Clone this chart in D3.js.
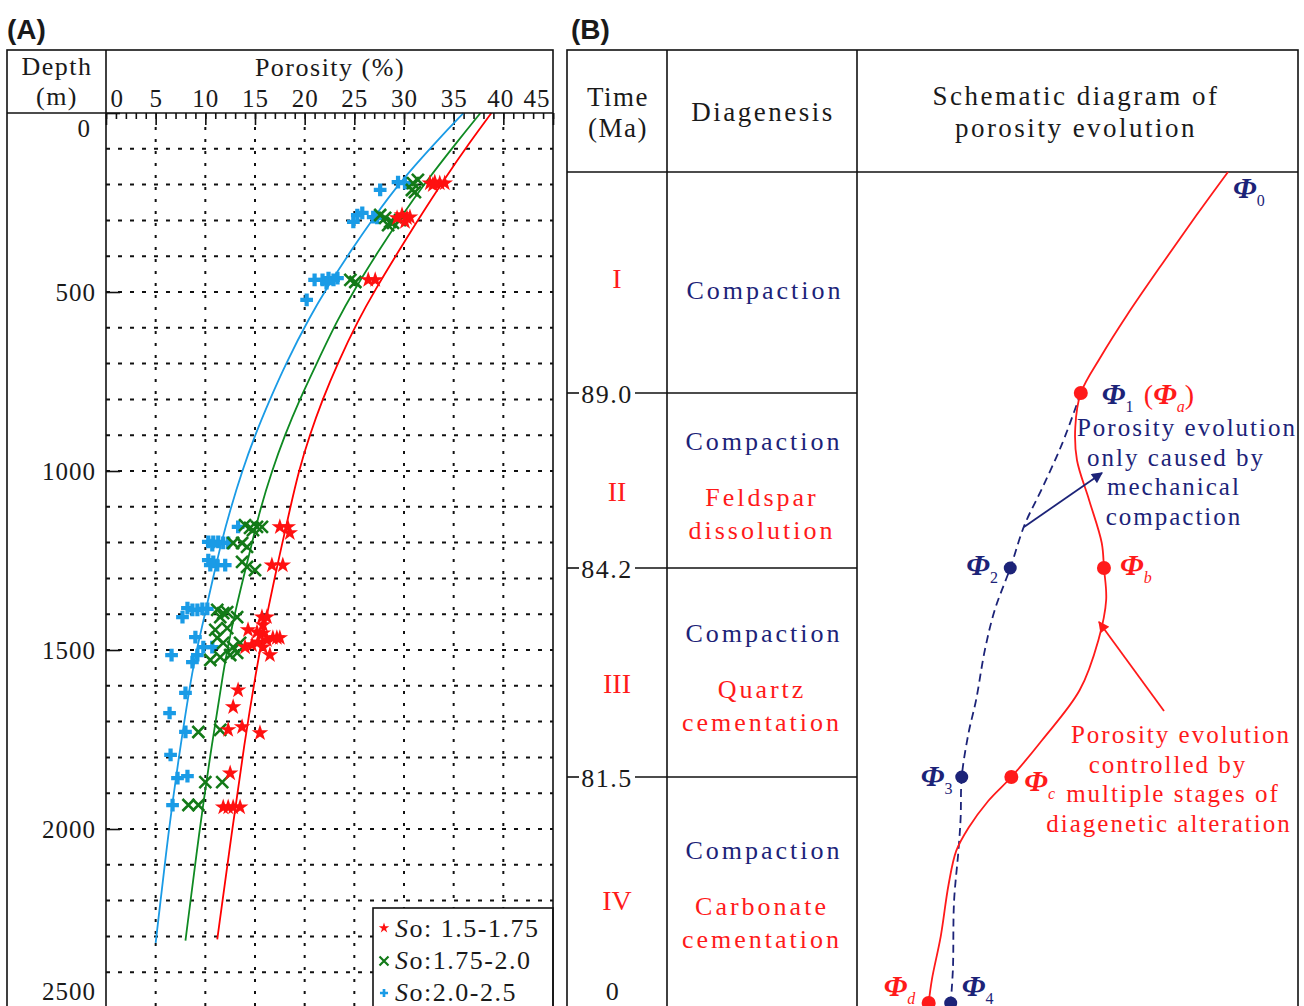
<!DOCTYPE html>
<meta charset="utf-8">
<head>
<title>Porosity vs depth and porosity evolution</title>
<script src="https://cdn.jsdelivr.net/npm/d3@7"></script>
<style>
  body { margin: 0; background: #fff; }
  svg text { font-family: "Liberation Serif", "Times New Roman", serif; fill: #1a1a1a; }
  .tag { font-family: "Liberation Sans", Arial, sans-serif !important; font-weight: bold; font-size: 28px; }
  .axis path { display: none; }
  .axis line { stroke: #111; stroke-width: 1.6; }
</style>
</head>
<body>
<svg width="1304" height="1006"></svg>
<script>
// ---------- panel A data ----------
var porosityTicks = [0, 5, 10, 15, 20, 25, 30, 35, 40, 45];
var depthTicks = [0, 500, 1000, 1500, 2000, 2500];
var legendRanges = [": 1.5-1.75", ":1.75-2.0", ":2.0-2.5"];

// [porosity %, depth m]
var starPoints = [
  [32.6, 196], [33.1, 193], [33.6, 196], [34.1, 196], [32.9, 201],
  [29.3, 293], [29.8, 285], [30.3, 293], [30.6, 291], [30.1, 304],
  [26.4, 466], [27.1, 466],
  [17.5, 1156], [18.3, 1156], [18.5, 1173], [16.7, 1263], [17.8, 1263],
  [15.7, 1408], [16.2, 1408], [15.8, 1430], [14.3, 1444], [15.2, 1450], [15.8, 1453],
  [14.0, 1492], [14.7, 1486], [15.3, 1478], [16.2, 1472], [16.8, 1466], [17.5, 1466],
  [15.8, 1492], [16.5, 1514], [17.2, 1466],
  [13.3, 1612], [12.8, 1659], [12.3, 1723], [13.7, 1715], [15.5, 1732], [12.5, 1844],
  [11.8, 1939], [12.3, 1939], [12.8, 1939], [13.5, 1939]
];
var timesPoints = [
  [30.9, 196], [31.4, 187], [30.8, 215], [31.1, 221],
  [27.6, 285], [28.1, 293], [28.6, 304], [28.9, 307], [29.6, 299], [28.4, 313],
  [24.6, 466], [25.1, 472],
  [14.0, 1151], [14.5, 1159], [15.2, 1156], [15.7, 1156], [14.8, 1165],
  [12.8, 1201], [13.7, 1201], [14.2, 1212],
  [13.7, 1254], [14.2, 1268], [15.0, 1277],
  [11.2, 1388], [11.8, 1397], [11.5, 1408], [13.2, 1408], [12.2, 1394],
  [11.0, 1444], [11.2, 1466], [12.2, 1439], [11.8, 1480], [12.8, 1492], [13.5, 1480],
  [10.5, 1528], [11.5, 1520], [12.5, 1514], [13.2, 1508],
  [9.3, 1729], [11.5, 1723], [10.0, 1869], [11.7, 1869], [8.3, 1933], [9.3, 1933]
];
var plusPoints = [
  [27.6, 215], [29.4, 193], [30.1, 196],
  [25.3, 285], [24.9, 304], [25.8, 279], [26.9, 291], [27.3, 293],
  [21.0, 466], [21.8, 466], [22.4, 461], [22.9, 466], [23.3, 461], [22.2, 475], [20.2, 522],
  [13.3, 1156],
  [10.3, 1198], [10.8, 1198], [11.3, 1198], [11.8, 1201], [12.3, 1201], [10.7, 1207],
  [10.3, 1249], [10.8, 1254], [11.2, 1263], [12.0, 1263], [10.5, 1263],
  [8.2, 1383], [8.7, 1388], [9.2, 1388], [9.7, 1385], [10.2, 1385], [7.7, 1408],
  [9.0, 1464], [9.8, 1492], [10.7, 1492], [6.6, 1514], [8.7, 1534], [9.2, 1514],
  [8.0, 1620], [6.4, 1676], [8.0, 1729], [6.5, 1793], [7.2, 1858], [8.2, 1852], [6.7, 1933]
];

// fitted trend lines
var redFit = [[38.8, 0], [36.8, 75], [34.0, 187], [31.4, 299], [29.1, 402], [27.1, 494], [25.4, 578],
  [23.3, 700], [21.8, 800], [20.5, 900], [19.4, 1000], [18.5, 1109], [17.75, 1201], [17.0, 1296],
  [16.3, 1388], [15.65, 1480], [15.2, 1545], [13.9, 1765], [12.7, 2003], [11.2, 2308]];
var greenFit = [[37.7, 0], [35.5, 75], [32.1, 196], [29.7, 290], [27.3, 391], [25.0, 494], [23.3, 578],
  [21.2, 700], [19.5, 800], [18.0, 900], [16.7, 1000], [15.5, 1109], [14.7, 1201], [13.85, 1296],
  [13.05, 1388], [12.35, 1480], [11.9, 1545], [10.65, 1765], [9.4, 2003], [8.0, 2312]];
var blueFit = [[36.0, 0], [33.4, 75], [29.5, 196], [27.0, 290], [24.5, 391], [22.3, 486], [20.5, 570],
  [18.1, 700], [16.5, 800], [15.0, 900], [13.7, 1000], [12.5, 1109], [11.6, 1201], [10.8, 1296],
  [10.05, 1388], [9.3, 1480], [8.8, 1540], [7.5, 1765], [6.3, 2003], [5.0, 2318]];

// ---------- panel B data ----------
var stages = ["I", "II", "III", "IV"];
var boundaryAges = ["89.0", "84.2", "81.5", "0"];
var diagenesis = [
  ["Compaction"],
  ["Compaction", "Feldspar", "dissolution"],
  ["Compaction", "Quartz", "cementation"],
  ["Compaction", "Carbonate", "cementation"]
];
// [relative porosity, stage position]
var actualPath = [[33.65, 0], [30.8, 0.195], [27.8, 0.407], [24.5, 0.647], [22.1, 0.837], [20.3, 1],
  [19.8, 1.194], [19.95, 1.383], [21.05, 1.611], [22.2, 1.857], [22.4, 2],
  [22.6, 2.153], [21.9, 2.344], [20.2, 2.584], [16.8, 2.823], [14.0, 3],
  [11.9, 3.106], [10.1, 3.226], [9.0, 3.327], [8.3, 3.478], [7.6, 3.704], [6.8, 3.894], [6.5, 4]];
var compactionPath = [[20.3, 1], [18.6, 1.291], [16.8, 1.543], [15.2, 1.754], [13.9, 2],
  [12.5, 2.2], [11.6, 2.392], [10.8, 2.632], [10.1, 2.794], [9.5, 3],
  [9.4, 3.181], [9.2, 3.327], [8.8, 3.553], [8.7, 3.85], [8.5, 4]];
var actualDots = [[20.3, 1], [22.4, 2], [14.0, 3], [6.5, 4]];
var compactionDots = [[13.9, 2], [9.5, 3], [8.5, 4]];

var RED = "#ff1a1a", NAVY = "#1c2378", BLUE = "#1a9be6", GREEN = "#0f8a22";

var svg = d3.select("svg");

// ================= panel A =================
var xA = d3.scaleLinear().domain([0, 45]).range([106, 553]);
var yA = d3.scaleLinear().domain([0, 2500]).range([113, 1008]);
var gA = svg.append("g");

svg.append("text").attr("class", "tag").attr("x", 7).attr("y", 39).text("(A)");

// dotted grid
gA.selectAll(".hg").data(d3.range(100, 2500, 100)).enter().append("line")
  .attr("x1", xA(0)).attr("x2", xA(45))
  .attr("y1", function (d) { return yA(d); }).attr("y2", function (d) { return yA(d); })
  .attr("stroke", "#111").attr("stroke-width", 2).attr("stroke-dasharray", "4,8");
gA.selectAll(".vg").data(d3.range(5, 45, 5)).enter().append("line")
  .attr("x1", function (d) { return xA(d); }).attr("x2", function (d) { return xA(d); })
  .attr("y1", yA(0) + 14).attr("y2", yA(2500))
  .attr("stroke", "#111").attr("stroke-width", 2).attr("stroke-dasharray", "3,9");

// top axis ticks (inward)
gA.append("g").attr("class", "axis").attr("transform", "translate(0," + yA(0) + ")")
  .call(d3.axisBottom(xA).tickValues(d3.range(0, 46, 1)).tickSize(6).tickFormat(""));
gA.append("g").attr("class", "axis").attr("transform", "translate(0," + yA(0) + ")")
  .call(d3.axisBottom(xA).tickValues(porosityTicks).tickSize(12).tickFormat(""));
// left axis ticks (inward)
gA.append("g").attr("class", "axis").attr("transform", "translate(" + xA(0) + ",0)")
  .call(d3.axisRight(yA).tickValues(depthTicks).tickSize(14).tickFormat(""));

// tick labels
var topLab = gA.append("g").attr("transform", "translate(0," + yA(0) + ")")
  .call(d3.axisTop(xA).tickValues(porosityTicks).tickSize(0).tickPadding(6));
topLab.select(".domain").remove();
topLab.selectAll("text").attr("font-size", 25).attr("fill", "#1a1a1a")
  .style("font-family", "Liberation Serif").style("letter-spacing", "1px")
  .attr("text-anchor", function (d) { return d === 0 ? "start" : d === 45 ? "end" : "middle"; })
  .attr("dx", function (d) { return d === 0 ? 4 : d === 45 ? -3 : d === 40 ? -3 : 0; });

var leftLab = gA.append("g").attr("transform", "translate(96,0)")
  .call(d3.axisLeft(yA).tickValues(depthTicks).tickSize(0).tickPadding(0).tickFormat(d3.format("d")));
leftLab.select(".domain").remove();
leftLab.selectAll("text").attr("font-size", 25).attr("fill", "#1a1a1a")
  .style("font-family", "Liberation Serif").style("letter-spacing", "1px")
  .attr("dy", function (d) { return d === 0 ? "0.95em" : d === 2500 ? "-0.35em" : "0.34em"; })
  .attr("x", function (d) { return d === 0 ? -5 : 0; });

// header texts
gA.append("text").attr("x", 57).attr("y", 75).attr("text-anchor", "middle")
  .attr("font-size", 26).style("letter-spacing", "1.5px").text("Depth");
gA.append("text").attr("x", 57).attr("y", 105).attr("text-anchor", "middle")
  .attr("font-size", 26).style("letter-spacing", "1.5px").text("(m)");
gA.append("text").attr("x", 330).attr("y", 76).attr("text-anchor", "middle")
  .attr("font-size", 26).style("letter-spacing", "1.5px").text("Porosity (%)");

// fit curves
var lineA = d3.line().x(function (d) { return xA(d[0]); }).y(function (d) { return yA(d[1]); })
  .curve(d3.curveBasis);
[[blueFit, BLUE], [greenFit, GREEN], [redFit, "#ff0000"]].forEach(function (c) {
  gA.append("path").datum(c[0]).attr("d", lineA).attr("fill", "none")
    .attr("stroke", c[1]).attr("stroke-width", 1.8);
});

// markers
var star = d3.symbol(d3.symbolStar, 85), plus = d3.symbol(d3.symbolCross, 90);
gA.selectAll(".plus").data(plusPoints).enter().append("path")
  .attr("d", plus).attr("fill", BLUE)
  .attr("transform", function (d) { return "translate(" + xA(d[0]) + "," + yA(d[1]) + ")"; });
gA.selectAll(".times").data(timesPoints).enter().append("path")
  .attr("d", "M-6,-6L6,6M-6,6L6,-6").attr("fill", "none")
  .attr("stroke", "#137a18").attr("stroke-width", 2.6)
  .attr("transform", function (d) { return "translate(" + xA(d[0]) + "," + yA(d[1]) + ")"; });
gA.selectAll(".star").data(starPoints).enter().append("path")
  .attr("d", star).attr("fill", "#ff1010")
  .attr("transform", function (d) { return "translate(" + xA(d[0]) + "," + yA(d[1]) + ")"; });

// legend
var lg = gA.append("g").attr("transform", "translate(373,908)");
lg.append("rect").attr("width", 180).attr("height", 110).attr("fill", "#fff")
  .attr("stroke", "#111").attr("stroke-width", 1.6);
legendRanges.forEach(function (r, i) {
  var row = lg.append("g").attr("transform", "translate(0," + (20 + i * 32) + ")");
  if (i === 0) row.append("path").attr("d", d3.symbol(d3.symbolStar, 34)).attr("fill", "#ff1010").attr("transform", "translate(11,0)");
  if (i === 1) row.append("path").attr("d", "M-4.5,-4.5L4.5,4.5M-4.5,4.5L4.5,-4.5").attr("stroke", "#137a18").attr("stroke-width", 2.2).attr("transform", "translate(11,1)");
  if (i === 2) row.append("path").attr("d", d3.symbol(d3.symbolCross, 36)).attr("fill", BLUE).attr("transform", "translate(11,1)");
  var t = row.append("text").attr("x", 22).attr("y", 9).attr("font-size", 26).style("letter-spacing", "1.5px");
  t.append("tspan").attr("font-style", "italic").text("S");
  t.append("tspan").text("o" + r);
});

// panel A frame
gA.append("rect").attr("x", 7).attr("y", 50).attr("width", 546).attr("height", 1000)
  .attr("fill", "none").attr("stroke", "#111").attr("stroke-width", 1.6);
gA.append("line").attr("x1", 7).attr("x2", 553).attr("y1", 113).attr("y2", 113).attr("stroke", "#111").attr("stroke-width", 1.6);
gA.append("line").attr("x1", 106).attr("x2", 106).attr("y1", 50).attr("y2", 1006).attr("stroke", "#111").attr("stroke-width", 1.6);

// ================= panel B =================
var gB = svg.append("g");
var xB = d3.scaleLinear().domain([0, 40]).range([857, 1298]);
var yB = d3.scaleLinear().domain([0, 1, 2, 3, 4]).range([172, 393, 568, 777, 1003]);

svg.append("text").attr("class", "tag").attr("x", 571).attr("y", 39).text("(B)");

// table frame
gB.append("rect").attr("x", 567).attr("y", 50).attr("width", 731).attr("height", 1000)
  .attr("fill", "none").attr("stroke", "#111").attr("stroke-width", 1.6);
[667, 857].forEach(function (x) {
  gB.append("line").attr("x1", x).attr("x2", x).attr("y1", 50).attr("y2", 1006).attr("stroke", "#111").attr("stroke-width", 1.6);
});
gB.append("line").attr("x1", 567).attr("x2", 1298).attr("y1", yB(0)).attr("y2", yB(0)).attr("stroke", "#111").attr("stroke-width", 1.6);

// header
function txt(g, x, y, s, color, size, ls) {
  return g.append("text").attr("x", x).attr("y", y).attr("text-anchor", "middle")
    .attr("font-size", size || 26).style("letter-spacing", (ls == null ? 2 : ls) + "px")
    .style("fill", color || "#1a1a1a").text(s);
}
txt(gB, 618, 106, "Time", null, 27, 1.5);
txt(gB, 618, 137, "(Ma)", null, 27, 1.5);
txt(gB, 763, 121, "Diagenesis", null, 27, 2.5);
txt(gB, 1076, 105, "Schematic diagram of", null, 27, 2.5);
txt(gB, 1076, 137, "porosity evolution", null, 27, 2.5);

// stage boundaries and ages
boundaryAges.forEach(function (a, i) {
  var y = yB(i + 1);
  if (i < 3) {
    gB.append("line").attr("x1", 567).attr("x2", 579).attr("y1", y).attr("y2", y).attr("stroke", "#111").attr("stroke-width", 1.6);
    gB.append("line").attr("x1", 635).attr("x2", 857).attr("y1", y).attr("y2", y).attr("stroke", "#111").attr("stroke-width", 1.6);
    txt(gB, 607, y + 10, a, null, 26, 1.5);
  } else {
    txt(gB, 613, y - 3, a, null, 26, 1.5);
  }
});

// stage numerals and diagenesis
stages.forEach(function (s, i) {
  var mid = (yB(i) + yB(i + 1)) / 2;
  txt(gB, 617, mid + 10 + (i === 0 ? -5 : 10), s, RED, 28, 0);
  var lines = diagenesis[i];
  if (lines.length === 1) {
    txt(gB, 765, mid + 16, lines[0], NAVY, 26, 3);
  } else {
    txt(gB, 764, mid - 31, lines[0], NAVY, 26, 3);
    txt(gB, 762, mid + 25, lines[1], RED, 26, 3);
    txt(gB, 762, mid + 58, lines[2], RED, 26, 3);
  }
});

// arrow markers
var defs = svg.append("defs");
[["arrNavy", NAVY], ["arrRed", RED]].forEach(function (m) {
  defs.append("marker").attr("id", m[0]).attr("viewBox", "0 0 10 10").attr("refX", 9).attr("refY", 5)
    .attr("markerWidth", 14).attr("markerHeight", 11).attr("markerUnits", "userSpaceOnUse").attr("orient", "auto")
    .append("path").attr("d", "M0,0L10,5L0,10Z").attr("fill", m[1]);
});

// evolution curves
var lineB = d3.line().x(function (d) { return xB(d[0]); }).y(function (d) { return yB(d[1]); })
  .curve(d3.curveCatmullRom);
gB.append("path").datum(compactionPath).attr("d", lineB).attr("fill", "none")
  .attr("stroke", NAVY).attr("stroke-width", 1.8).attr("stroke-dasharray", "8,5");
gB.append("path").datum(actualPath).attr("d", lineB).attr("fill", "none")
  .attr("stroke", RED).attr("stroke-width", 1.8);

gB.selectAll(".cd").data(compactionDots).enter().append("circle")
  .attr("cx", function (d) { return xB(d[0]); }).attr("cy", function (d) { return yB(d[1]); })
  .attr("r", 6.5).attr("fill", NAVY);
gB.selectAll(".ad").data(actualDots).enter().append("circle")
  .attr("cx", function (d) { return xB(d[0]); }).attr("cy", function (d) { return yB(d[1]); })
  .attr("r", 7).attr("fill", RED);

// phi labels
function phi(x, y, sub, color) {
  var t = gB.append("text").attr("x", x).attr("y", y).style("fill", color);
  t.append("tspan").attr("font-size", 30).attr("font-style", "italic").attr("font-weight", "bold").text("Φ");
  t.append("tspan").attr("font-size", 16).attr("dy", 8).attr("font-style", /[a-d]/.test(sub) ? "italic" : "normal").text(sub);
  return t;
}
var p0 = actualPath[0];
phi(xB(p0[0]) + 5, yB(p0[1]) + 26, "0", NAVY);
var a1 = actualDots[0];
phi(xB(a1[0]) + 21, yB(a1[1]) + 11, "1", NAVY);
var pa = gB.append("text").attr("x", xB(a1[0]) + 63).attr("y", yB(a1[1]) + 11).style("fill", RED);
pa.append("tspan").attr("font-size", 28).text("(");
pa.append("tspan").attr("font-size", 30).attr("font-style", "italic").attr("font-weight", "bold").text("Φ");
pa.append("tspan").attr("font-size", 16).attr("dy", 8).attr("font-style", "italic").text("a");
pa.append("tspan").attr("font-size", 28).attr("dy", -8).text(")");
phi(xB(compactionDots[0][0]) - 44, yB(2) + 7, "2", NAVY);
phi(xB(actualDots[1][0]) + 16, yB(2) + 7, "b", RED);
phi(xB(compactionDots[1][0]) - 41, yB(3) + 9, "3", NAVY);
phi(xB(actualDots[2][0]) + 13, yB(3) + 14, "c", RED);
phi(xB(actualDots[3][0]) - 45, yB(4) - 7, "d", RED);
phi(xB(compactionDots[2][0]) + 11, yB(4) - 7, "4", NAVY);

// annotations
var navyNote = ["Porosity evolution", "only caused by", "mechanical", "compaction"];
var navyX = [1187, 1176, 1174, 1174];
navyNote.forEach(function (s, i) { txt(gB, navyX[i], 436 + i * 29.5, s, NAVY, 25, 2); });
var redNote = ["Porosity evolution", "controlled by", "multiple stages of", "diagenetic alteration"];
var redX = [1181, 1168, 1173, 1169];
redNote.forEach(function (s, i) { txt(gB, redX[i], 743 + i * 29.5, s, RED, 25, 2); });

gB.append("line").attr("x1", 1024).attr("y1", 527).attr("x2", 1102).attr("y2", 473)
  .attr("stroke", NAVY).attr("stroke-width", 1.8).attr("marker-end", "url(#arrNavy)");
gB.append("line").attr("x1", 1164).attr("y1", 711).attr("x2", 1099).attr("y2", 622)
  .attr("stroke", RED).attr("stroke-width", 1.8).attr("marker-end", "url(#arrRed)");
</script>
</body>
